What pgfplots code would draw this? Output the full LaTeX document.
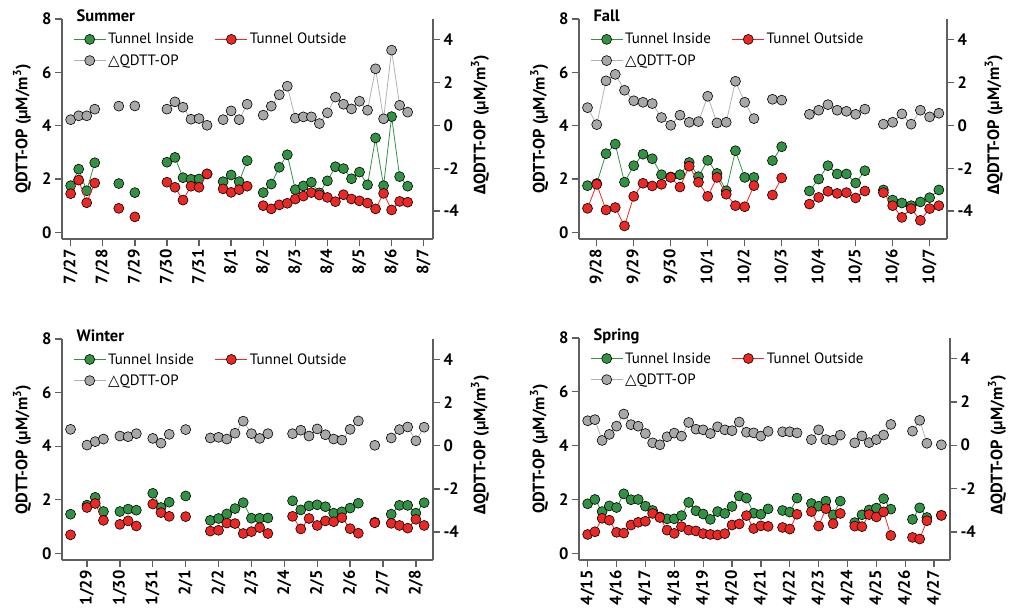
\documentclass[border=0pt]{standalone}
\usepackage{fontspec}
\setmainfont{PT Sans}
\newfontfamily\symfont{DejaVu Sans}
\newfontfamily\grk{Fira Sans}
\usepackage{pgfplots}
\usepackage{pgfplotstable}
\pgfplotsset{compat=1.18}

\definecolor{ginside}{RGB}{50,146,68}
\definecolor{routside}{RGB}{236,40,36}
\definecolor{gdelta}{RGB}{168,168,170}
\definecolor{gline}{RGB}{178,178,178}
\definecolor{axgray}{RGB}{95,95,95}

\newcommand{\tickfont}{\bfseries\fontsize{16.5}{18}\selectfont}
\newcommand{\labfont}{\bfseries\fontsize{16.5}{18}\selectfont}

% d = day after first labelled date, gi = tunnel inside, go = tunnel outside, dq = difference
\pgfplotstableread{
d gi go dq
0.00 1.75 1.45 0.26
0.25 2.37 1.96 0.44
0.50 1.56 1.11 0.44
0.75 2.61 1.85 0.75
1.00 nan nan nan
1.50 1.83 0.90 0.89
1.75 nan nan nan
2.00 1.49 0.58 0.90
2.50 nan nan nan
3.00 2.63 1.88 0.75
3.25 2.81 1.69 1.09
3.50 2.05 1.21 0.84
3.75 1.99 1.73 0.28
4.00 2.00 1.69 0.31
4.25 2.19 2.19 0.00
4.50 nan nan nan
4.75 1.90 1.63 0.26
5.00 2.15 1.50 0.67
5.25 1.90 1.60 0.26
5.50 2.69 1.73 0.98
5.75 nan nan nan
6.00 1.49 1.00 0.47
6.25 1.81 0.88 0.89
6.50 2.44 1.03 1.42
6.75 2.91 1.09 1.82
7.00 1.60 1.25 0.33
7.25 1.74 1.36 0.39
7.50 1.88 1.49 0.39
7.75 1.48 1.40 0.08
8.00 1.93 1.31 0.58
8.25 2.46 1.15 1.31
8.50 2.39 1.41 0.98
8.75 2.01 1.25 0.76
9.00 2.26 1.18 1.12
9.25 1.78 1.10 0.70
9.50 3.54 0.88 2.63
9.75 1.75 1.46 0.30
10.00 4.34 0.84 3.50
10.25 2.09 1.16 0.93
10.50 1.73 1.13 0.61
}\summer

\pgfplotstableread{
d gi go dq
-0.25 1.75 0.90 0.82
0.00 1.83 1.80 0.03
0.25 2.95 0.84 2.07
0.50 3.31 0.93 2.37
0.75 1.88 0.24 1.63
1.00 2.50 1.35 1.14
1.25 2.93 1.84 1.07
1.50 2.76 1.74 1.01
1.75 2.16 1.80 0.36
2.00 2.08 2.06 0.00
2.25 2.16 1.70 0.47
2.50 2.62 2.48 0.14
2.75 2.09 1.88 0.17
3.00 2.70 1.35 1.35
3.25 2.21 2.06 0.11
3.50 1.56 1.43 0.14
3.75 3.06 1.00 2.05
4.00 2.06 0.96 1.07
4.25 2.06 1.75 0.31
4.50 nan nan nan
4.75 2.69 1.40 1.21
5.00 3.21 2.04 1.17
5.50 nan nan nan
5.75 1.55 1.06 0.51
6.00 2.00 1.31 0.70
6.25 2.50 1.54 0.96
6.50 2.19 1.46 0.70
6.75 2.19 1.49 0.65
7.00 1.85 1.29 0.51
7.25 2.31 1.55 0.75
7.50 nan nan nan
7.75 1.59 1.49 0.05
8.00 1.21 1.00 0.14
8.25 1.10 0.56 0.53
8.50 1.00 0.89 0.05
8.75 1.14 0.45 0.70
9.00 1.30 0.89 0.39
9.25 1.59 1.00 0.56
}\fall

\pgfplotstableread{
d gi go dq
-0.50 1.46 0.69 0.76
-0.25 nan nan nan
0.00 1.80 1.71 0.03
0.25 2.09 1.86 0.19
0.50 1.56 1.23 0.31
0.75 nan nan nan
1.00 1.56 1.08 0.45
1.25 1.65 1.21 0.42
1.50 1.61 1.02 0.56
1.75 nan nan nan
2.00 2.24 1.84 0.34
2.25 1.71 1.52 0.12
2.50 1.91 1.38 0.53
2.75 nan nan nan
3.00 2.14 1.37 0.75
3.25 nan nan nan
3.75 1.23 0.83 0.36
4.00 1.30 0.86 0.39
4.25 1.47 1.13 0.31
4.50 1.67 1.11 0.58
4.75 1.89 0.74 1.14
5.00 1.31 0.81 0.56
5.25 1.31 0.96 0.34
5.50 1.32 0.74 0.56
5.75 nan nan nan
6.25 1.96 1.38 0.56
6.50 1.62 0.91 0.72
6.75 1.77 1.30 0.45
7.00 1.81 1.04 0.78
7.25 1.74 1.21 0.51
7.50 1.50 1.18 0.31
7.75 1.55 1.33 0.26
8.00 1.69 0.92 0.76
8.25 1.87 0.75 1.15
8.50 nan nan nan
8.75 1.16 1.14 0.02
9.00 nan nan nan
9.25 1.46 1.12 0.36
9.50 1.79 1.04 0.75
9.75 1.79 0.94 0.87
10.00 1.50 1.27 0.23
10.25 1.89 1.04 0.86
}\winter

\pgfplotstableread{
d gi go dq
0.00 1.84 0.70 1.13
0.25 2.00 0.80 1.18
0.50 1.55 1.30 0.22
0.75 1.76 1.23 0.50
1.00 1.70 0.78 0.88
1.25 2.21 0.75 1.44
1.50 1.99 1.05 0.95
1.75 2.00 1.15 0.88
2.00 1.75 1.19 0.54
2.25 1.59 1.48 0.11
2.50 1.35 1.33 0.02
2.75 1.28 0.86 0.39
3.00 1.28 0.74 0.56
3.25 1.40 0.99 0.42
3.50 1.89 0.86 1.05
3.75 1.58 0.83 0.74
4.00 1.46 0.73 0.71
4.25 1.26 0.70 0.54
4.50 1.55 0.68 0.85
4.75 1.48 0.73 0.71
5.00 1.74 1.05 0.67
5.25 2.13 1.09 1.07
5.50 2.05 1.40 0.60
5.75 1.49 0.92 0.57
6.00 1.45 1.02 0.42
6.25 1.65 1.00 0.64
6.50 nan nan nan
6.75 1.59 0.96 0.62
7.00 1.53 0.90 0.62
7.25 2.05 1.45 0.57
7.50 nan nan nan
7.75 1.85 1.55 0.26
8.00 1.75 1.01 0.71
8.25 1.94 1.66 0.26
8.50 1.43 1.10 0.23
8.75 1.94 1.48 0.47
9.00 nan nan nan
9.25 1.14 1.01 0.11
9.50 1.43 0.99 0.43
9.75 1.61 1.44 0.12
10.00 1.68 1.35 0.26
10.25 2.03 1.54 0.47
10.50 1.64 0.66 0.96
10.75 nan nan nan
11.25 1.26 0.59 0.65
11.50 1.69 0.53 1.15
11.75 1.33 1.21 0.09
12.00 nan nan nan
12.25 1.41 1.41 0.02
}\spring

\pgfplotsset{
  ptin/.style={color=ginside, line width=0.8pt, mark=*, mark size=5pt,
    mark options={draw=black, fill=ginside, line width=0.6pt}},
  ptout/.style={color=routside, line width=0.8pt, mark=*, mark size=5pt,
    mark options={draw=black, fill=routside, line width=0.6pt}},
  ptdq/.style={color=gline, line width=0.8pt, mark=*, mark size=5pt,
    mark options={draw=black, fill=gdelta, line width=0.6pt}},
  panel/.style={
    scale only axis, anchor=south west,
    axis line style={-, draw=axgray, line width=1.3pt},
    tick style={draw=axgray, line width=1.3pt},
    tick align=outside, major tick length=7pt,
    unbounded coords=jump,
    clip mode=individual,
  },
  leftaxis/.style={panel,
    axis x line*=bottom, axis y line*=left,
    ymin=-0.25, ymax=8, ytick={0,2,4,6,8}, yticklabels={0,2,4,6,8},
    xticklabel style={rotate=90, anchor=east, font=\tickfont},
    yticklabel style={font=\tickfont},
    ylabel={QDTT-OP (µM/m\textsuperscript{3})},
    ylabel style={font=\labfont, at={(axis description cs:-0.108,0.5)}, anchor=center},
    legend columns=2,
    legend cell align=left,
    legend style={draw=none, fill=none, inner sep=0pt,
      at={(axis description cs:0.03,0.945)}, anchor=north west,
      font=\fontsize{15}{16}\selectfont, row sep=5pt,
      /tikz/every even column/.append style={column sep=19pt}},
    legend image code/.code={\draw[mark repeat=2, mark phase=2, ##1]
      plot coordinates {(0pt,0pt) (16pt,0pt) (32pt,0pt)};},
  },
  rightaxis/.style={panel,
    axis x line=none, axis y line*=right,
    ymin=-5.3, ymax=4.95, ytick={-4,-2,0,2,4}, yticklabels={-4,-2,0,2,4},
    yticklabel style={font=\tickfont},
    ylabel={{\grk Δ}QDTT-OP (µM/m\textsuperscript{3})},
    ylabel style={font=\labfont, at={(axis description cs:1.127,0.52)}, anchor=center},
  },
}
\tikzset{paneltitle/.style={anchor=base west, font=\bfseries\fontsize{16.5}{18}\selectfont}}

\begin{document}
\begin{tikzpicture}
\path[use as bounding box] (0,0) rectangle (1011pt,-611pt);

% Summer
\begin{axis}[leftaxis, at={(62pt,-239pt)}, width=371pt, height=220pt,
  xmin=-0.27, xmax=11.29, xtick={0,...,11},
  xticklabels={7/27,7/28,7/29,7/30,7/31,8/1,8/2,8/3,8/4,8/5,8/6,8/7}]
\addplot[ptin] table[x=d, y=gi] {\summer};
\addlegendentry{Tunnel Inside}
\addplot[ptout] table[x=d, y=go] {\summer};
\addlegendentry{Tunnel Outside}
\addlegendimage{ptdq}
\addlegendentry{{\symfont △}QDTT-OP}
\node[paneltitle] at (axis description cs:0.03,0.99) {Summer};
\end{axis}
\begin{axis}[rightaxis, at={(62pt,-239pt)}, width=371pt, height=220pt,
  xmin=-0.27, xmax=11.29]
\addplot[ptdq] table[x=d, y=dq] {\summer};
\end{axis}

% Fall
\begin{axis}[leftaxis, at={(579pt,-239pt)}, width=368pt, height=220pt,
  xmin=-0.48, xmax=9.47, xtick={0,...,9},
  xticklabels={9/28,9/29,9/30,10/1,10/2,10/3,10/4,10/5,10/6,10/7}]
\addplot[ptin] table[x=d, y=gi] {\fall};
\addlegendentry{Tunnel Inside}
\addplot[ptout] table[x=d, y=go] {\fall};
\addlegendentry{Tunnel Outside}
\addlegendimage{ptdq}
\addlegendentry{{\symfont △}QDTT-OP}
\node[paneltitle] at (axis description cs:0.03,0.99) {Fall};
\end{axis}
\begin{axis}[rightaxis, at={(579pt,-239pt)}, width=368pt, height=220pt,
  xmin=-0.48, xmax=9.47]
\addplot[ptdq] table[x=d, y=dq] {\fall};
\end{axis}

% Winter
\begin{axis}[leftaxis, at={(62pt,-560pt)}, width=371pt, height=221pt,
  xmin=-0.76, xmax=10.52, xtick={0,...,10},
  xticklabels={1/29,1/30,1/31,2/1,2/2,2/3,2/4,2/5,2/6,2/7,2/8}]
\addplot[ptin] table[x=d, y=gi] {\winter};
\addlegendentry{Tunnel Inside}
\addplot[ptout] table[x=d, y=go] {\winter};
\addlegendentry{Tunnel Outside}
\addlegendimage{ptdq}
\addlegendentry{{\symfont △}QDTT-OP}
\node[paneltitle] at (axis description cs:0.03,0.99) {Winter};
\end{axis}
\begin{axis}[rightaxis, at={(62pt,-560pt)}, width=371pt, height=221pt,
  xmin=-0.76, xmax=10.52]
\addplot[ptdq] table[x=d, y=dq] {\winter};
\end{axis}

% Spring
\begin{axis}[leftaxis, at={(579pt,-560pt)}, width=371pt, height=222pt,
  xmin=-0.30, xmax=12.55, xtick={0,...,12},
  xticklabels={4/15,4/16,4/17,4/18,4/19,4/20,4/21,4/22,4/23,4/24,4/25,4/26,4/27}]
\addplot[ptin] table[x=d, y=gi] {\spring};
\addlegendentry{Tunnel Inside}
\addplot[ptout] table[x=d, y=go] {\spring};
\addlegendentry{Tunnel Outside}
\addlegendimage{ptdq}
\addlegendentry{{\symfont △}QDTT-OP}
\node[paneltitle] at (axis description cs:0.03,0.99) {Spring};
\end{axis}
\begin{axis}[rightaxis, at={(579pt,-560pt)}, width=371pt, height=222pt,
  xmin=-0.30, xmax=12.55]
\addplot[ptdq] table[x=d, y=dq] {\spring};
\end{axis}
\end{tikzpicture}
\end{document}
